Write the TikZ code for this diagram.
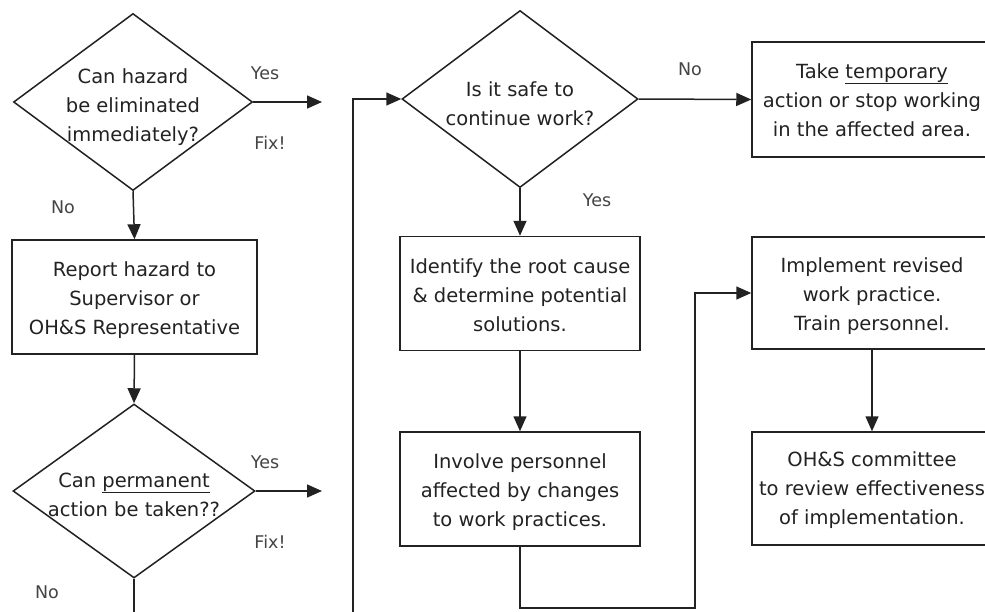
\documentclass[tikz,border=0pt]{standalone}
\usepackage{fontspec}
\setmainfont{DejaVu Sans}
\usetikzlibrary{shapes.geometric,arrows.meta}
\definecolor{ink}{HTML}{222222}
\definecolor{lbl}{HTML}{444444}
\newcommand{\ntext}[2]{\smash{\makebox[0pt]{\raisebox{#1}{\begin{tabular}{@{}c@{}}#2\end{tabular}}}}}
\begin{document}
\begin{tikzpicture}[x=1pt,y=-1pt,
  font=\fontsize{19.5}{29}\selectfont, text=ink,
  boxnode/.style={draw=ink, line width=1.5pt, rectangle, minimum width=240pt, minimum height=114pt, inner sep=0pt},
  decision/.style={draw=ink, line width=1.5pt, diamond, inner sep=0pt, minimum width=239pt, minimum height=177pt},
  flow/.style={draw=ink, line width=1.5pt, -{Triangle[length=15pt,width=13pt]}},
  answer/.style={text=lbl, font=\fontsize{17.5}{20}\selectfont}]
\useasboundingbox (0,0) rectangle (985,611);
\clip (0,0) rectangle (985,611);
\fill[white] (0,0) rectangle (985,611);

% left column
\node[decision] (d1) at (133,102) {\ntext{-10pt}{Can hazard\\be eliminated\\immediately?}};
\node[boxnode, minimum width=245pt] (b1) at (134.5,297) {\ntext{-8pt}{Report hazard to\\Supervisor or\\OH\&S Representative}};
\node[decision, minimum width=242pt, minimum height=174pt] (d2) at (134,491) {\ntext{-10pt}{Can \underline{permanent}\\action be taken??}};

% middle column
\node[decision, minimum width=236pt] (d3) at (520,99) {\ntext{-11pt}{Is it safe to\\continue work?}};
\node[boxnode] (b4) at (520,293.5) {\ntext{-8.5pt}{Identify the root cause\\\& determine potential\\solutions.}};
\node[boxnode] (b5) at (520,489) {\ntext{-8pt}{Involve personnel\\affected by changes\\to work practices.}};

% right column
\node[boxnode, minimum height=115pt] (b3) at (872,99.5) {\ntext{-7pt}{Take \underline{temporary}\\action or stop working\\in the affected area.}};
\node[boxnode, minimum height=112pt] (b6) at (872,293) {\ntext{-7.5pt}{Implement revised\\work practice.\\Train personnel.}};
\node[boxnode, minimum height=113pt] (b7) at (872,488.5) {\ntext{-6.5pt}{OH\&S committee\\to review effectiveness\\of implementation.}};

% labels
\node[answer] (y1) at (265,73) {Yes};
\node[answer] (f1) at (270,143) {Fix!};
\node[answer] (n1) at (63,207) {No};
\node[answer] (y2) at (265,462) {Yes};
\node[answer] (f2) at (270,542) {Fix!};
\node[answer] (n2) at (47,592) {No};
\node[answer] (n3) at (690,69) {No};
\node[answer] (y3) at (597,200) {Yes};

% coordinates
\coordinate (fix1) at (322,102);
\coordinate (fix2) at (322,491);
\coordinate (loop) at (353,625);
\coordinate (turn) at (695,608);

% connectors
\draw[flow] (d1.east) -- (fix1);
\draw[flow] (d1.south) -- (b1.north);
\draw[flow] (b1.south) -- (d2.north);
\draw[flow] (d2.east) -- (fix2);
\draw[flow] (d2.south) |- (loop) |- (d3.west);
\draw[flow] (d3.east) -- (b3.west);
\draw[flow] (d3.south) -- (b4.north);
\draw[flow] (b4.south) -- (b5.north);
\draw[flow] (b5.south) |- (turn) |- (b6.west);
\draw[flow] (b6.south) -- (b7.north);
\end{tikzpicture}
\end{document}
